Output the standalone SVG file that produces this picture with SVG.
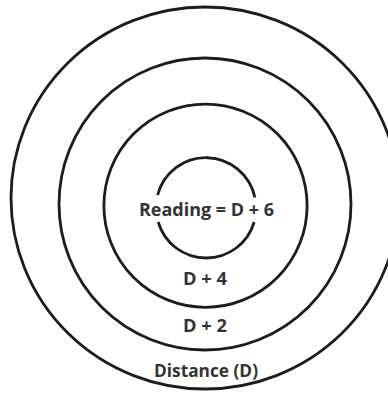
<svg xmlns="http://www.w3.org/2000/svg" width="388" height="394" viewBox="0 0 388 394">
<style>
.ring{fill:none;stroke:#1c1c1c;stroke-width:2.8}
.lbl{font-family:"Open Sans","Liberation Sans",sans-serif;font-weight:bold;font-size:17.5px;fill:#333;text-anchor:middle}
</style>
<rect width="388" height="394" fill="#fff"/>
<g id="ring-distance"><ellipse class="ring" cx="205" cy="198" rx="194" ry="191"/><text class="lbl" x="206" y="377" textLength="104" lengthAdjust="spacingAndGlyphs">Distance (D)</text></g>
<g id="ring-d2"><circle class="ring" cx="205" cy="204" r="146"/><text class="lbl" x="205" y="332" textLength="44" lengthAdjust="spacingAndGlyphs">D + 2</text></g>
<g id="ring-d4"><circle class="ring" cx="205.5" cy="205.7" r="101.6"/><text class="lbl" x="205" y="285" textLength="44" lengthAdjust="spacingAndGlyphs">D + 4</text></g>
<g id="ring-reading"><path class="ring" d="M157.6,195 A50,50 0 0 1 254.9,197.5"/><path class="ring" d="M254.2,222 A50,50 0 0 1 158.2,222"/><text class="lbl" x="206.5" y="216" textLength="135" lengthAdjust="spacingAndGlyphs">Reading = D + 6</text></g>
</svg>
